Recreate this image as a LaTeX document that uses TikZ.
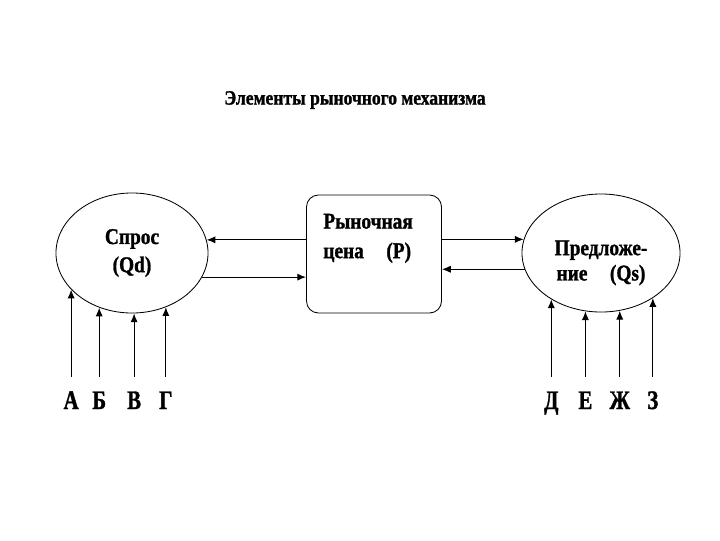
\documentclass[tikz,border=0pt]{standalone}
\usepackage{fontspec}
\setmainfont{Liberation Serif}
\newfontfamily\condfont[FakeStretch=0.86, FakeBold=1.2]{Liberation Serif}
\newfontfamily\lblfont[FakeStretch=0.78, FakeBold=1.2]{Liberation Serif}
\usetikzlibrary{shapes.geometric,arrows.meta}

\begin{document}
\begin{tikzpicture}[x=0.025cm, y=-0.025cm,
    oval/.style={draw, ellipse, line width=0.6pt, minimum width=3.8cm, minimum height=3cm,
        align=center, font=\condfont\fontsize{16}{20}\selectfont\bfseries},
    pricebox/.style={draw, rounded corners=0.3cm, line width=0.6pt, minimum width=3.375cm, minimum height=2.95cm},
    txt/.style={align=left, inner sep=0pt, font=\condfont\fontsize{16}{21}\selectfont\bfseries},
    lbl/.style={anchor=base, inner sep=2pt, font=\lblfont\fontsize{19}{21}\selectfont\bfseries},
    arr/.style={line width=0.8pt, -{Latex[length=2.2mm, width=1.8mm]}}]
    % white page of the same size as the reference
    \useasboundingbox[fill=white] (0,0) rectangle (720,540);

    % Title
    \node[font=\condfont\fontsize{14.5}{16}\selectfont\bfseries] (title) at (355,100) {Элементы рыночного механизма};

    % Three blocks
    \node[oval] (sd) at (132,253) {Спрос\\(Qd)};
    \node[pricebox] (pc) at (374,254) {};
    \node[txt, anchor=north west] (pctxt) at ([shift={(17,19)}]pc.north west) {Рыночная\\цена\hspace{1em}(P)};
    \node[oval, minimum width=3.95cm, minimum height=2.95cm, font=\condfont\fontsize{16}{18}\selectfont\bfseries]
        (sq) at (601,253) {\raisebox{-7pt}[\height][\depth]{Предложе-}\\\raisebox{-7pt}[\height][\depth]{ние\hspace{1em}(Qs)}};

    % Links between demand, price and supply
    \draw[arr] (pc.west |- sd.10) -- (sd.10);
    \draw[arr] (sd.341) -- (pc.west |- sd.341);
    \draw[arr] (pc.east |- sq.170) -- (sq.170);
    \draw[arr] (sq.192) -- (pc.east |- sq.192);

    % Factors of demand
    \node[lbl] (fa) at (sd.211 |- 0,409) {А};
    \node[lbl] (fb) at (sd.239 |- 0,409) {Б};
    \node[lbl] (fv) at (sd.272 |- 0,409) {В};
    \node[lbl] (fg) at (sd.302 |- 0,409) {Г};
    \foreach \f/\a in {fa/211, fb/239, fv/272, fg/302}
        \draw[arr] ([yshift=8]\f.north) -- (\f.north |- sd.\a);

    % Factors of supply
    \node[lbl] (fd) at (sq.223 |- 0,409) {Д};
    \node[lbl] (fe) at (sq.255 |- 0,409) {Е};
    \node[lbl] (fzh) at (sq.288 |- 0,409) {Ж};
    \node[lbl] (fz) at (sq.319 |- 0,409) {З};
    \foreach \f/\a in {fd/223, fe/255, fzh/288, fz/319}
        \draw[arr] ([yshift=8]\f.north) -- (\f.north |- sq.\a);
\end{tikzpicture}
\end{document}
